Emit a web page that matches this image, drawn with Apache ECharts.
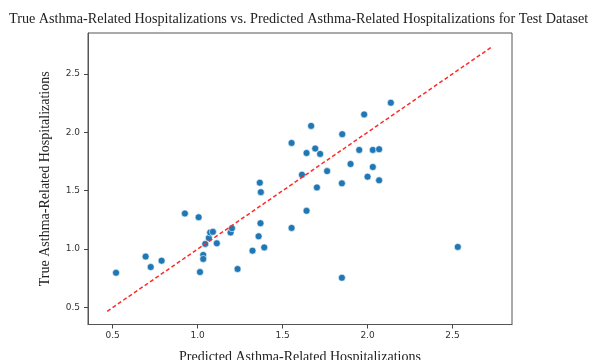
<!DOCTYPE html>
<html>
<head>
<meta charset="utf-8">
<script src="https://cdn.jsdelivr.net/npm/echarts@6/dist/echarts.min.js"></script>
<style>html,body{margin:0;padding:0;background:#fff;}#c{width:592px;height:360px;}</style>
</head>
<body>
<div id="c"></div>
<script>
var titleText = 'True Asthma-Related Hospitalizations vs. Predicted Asthma-Related Hospitalizations for Test Dataset';
var xName = 'Predicted Asthma-Related Hospitalizations';
var yName = 'True Asthma-Related Hospitalizations';
var tickValues = [0.5, 1.0, 1.5, 2.0, 2.5];
var predicted = [0.52,0.694,0.724,0.788,0.925,1.006,1.014,1.033,1.033,1.045,1.066,1.074,1.09,1.113,1.194,1.202,1.235,1.323,1.359,1.366,1.372,1.370,1.392,1.553,1.553,1.614,1.641,1.641,1.668,1.692,1.721,1.762,1.702,1.851,1.849,1.849,1.90,1.951,1.98,2.0,2.031,2.068,2.031,2.068,2.137,2.531];
var actual = [0.798,0.936,0.847,0.901,1.305,1.273,0.804,0.950,0.916,1.045,1.096,1.142,1.148,1.05,1.142,1.179,0.830,0.987,1.11,1.569,1.488,1.222,1.015,1.909,1.182,1.637,1.823,1.328,2.055,1.861,1.815,1.668,1.528,1.984,1.563,0.755,1.729,1.849,2.153,1.62,1.849,1.855,1.703,1.589,2.253,1.019];
var refLine = [0.468, 2.735];

var scatterData = predicted.map(function (x, i) { return [x, actual[i]]; });
var lineData = refLine.map(function (v) { return [v, v]; });

var axisCommon = {
  type: 'value',
  min: 0.355,
  max: 2.85,
  nameLocation: 'middle',
  nameTextStyle: { fontFamily: 'Liberation Serif', fontSize: 14, color: '#222' },
  axisLine: { show: true, onZero: false, lineStyle: { color: '#555', width: 1 } },
  axisTick: { show: true, inside: false, length: 4, customValues: tickValues, lineStyle: { color: '#444' } },
  axisLabel: { customValues: tickValues, fontFamily: 'DejaVu Sans', fontSize: 9, color: '#333',
    formatter: function (v) { return v.toFixed(1); } },
  splitLine: { show: false }
};

var chart = echarts.init(document.getElementById('c'), null, { renderer: 'canvas' });
chart.setOption({
  backgroundColor: '#fff',
  animation: false,
  title: {
    text: titleText, left: 4, top: 7,
    textStyle: { fontFamily: 'Liberation Serif', fontSize: 14.2, fontWeight: 'normal', color: '#222' }
  },
  grid: { left: 88, right: 80, top: 33, bottom: 35.5, outerBoundsMode: 'none', containLabel: false,
    show: true, borderColor: '#555', borderWidth: 1, backgroundColor: 'transparent' },
  xAxis: Object.assign({}, axisCommon, {
    name: xName, nameGap: 26,
    axisLabel: Object.assign({}, axisCommon.axisLabel, { margin: 7 })
  }),
  yAxis: Object.assign({}, axisCommon, {
    name: yName, nameGap: 36,
    axisLabel: Object.assign({}, axisCommon.axisLabel, { margin: 8 })
  }),
  series: [
    {
      type: 'scatter',
      data: scatterData,
      symbolSize: 7,
      itemStyle: { color: '#1f77b4', borderColor: '#fff', borderWidth: 0.6, opacity: 1 },
      z: 3
    },
    {
      type: 'line',
      data: lineData,
      symbol: 'none',
      lineStyle: { color: '#ff2a2a', width: 1.5, type: [4, 2.5] },
      z: 4
    }
  ]
});
</script>
</body>
</html>
